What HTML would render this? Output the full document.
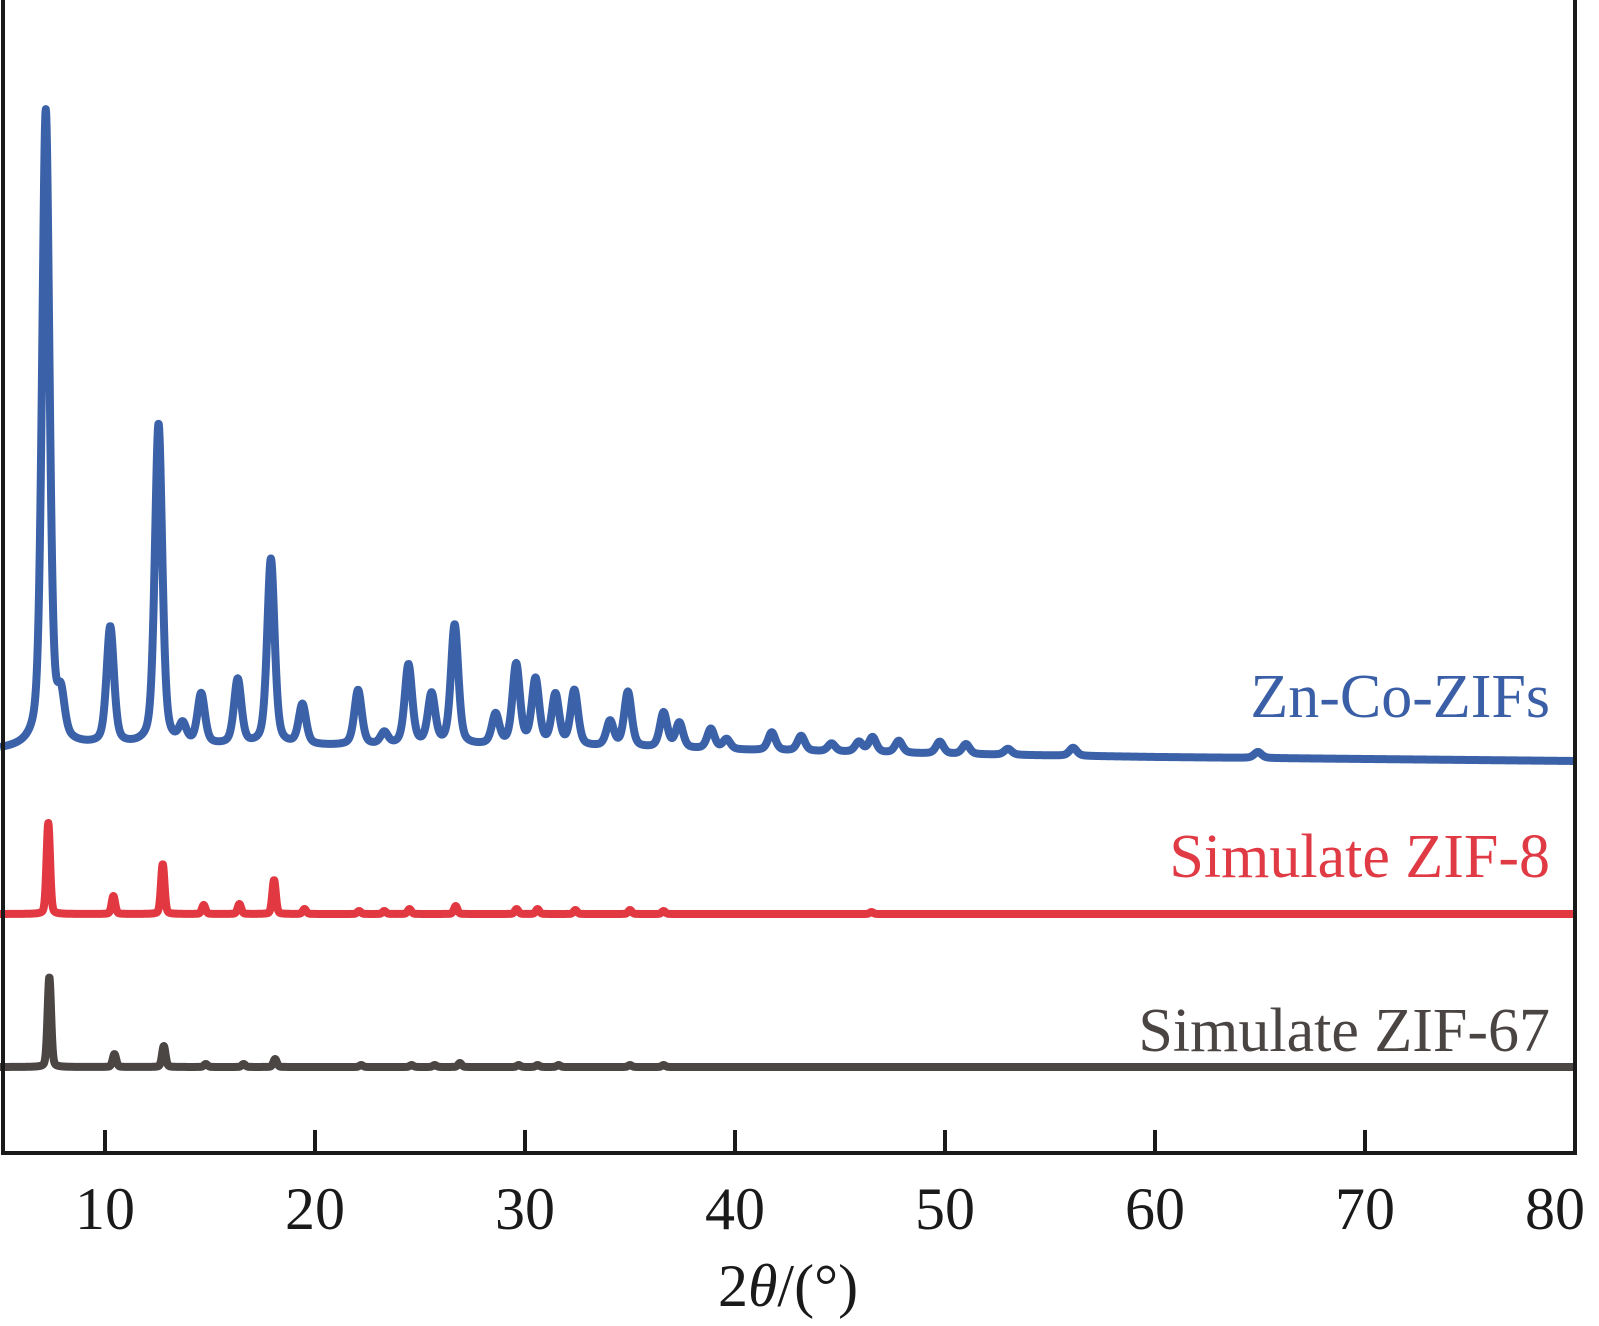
<!DOCTYPE html>
<html><head><meta charset="utf-8"><style>
html,body{margin:0;padding:0;background:#fff;}
svg{display:block;font-family:"Liberation Serif",serif;}
</style></head><body>
<svg id="chart" width="1599" height="1326" viewBox="0 0 1599 1326">
<g id="series"></g>
<rect x="3" y="-5" width="1572" height="1158" fill="none" stroke="#1a1a1a" stroke-width="4"/>
<g id="ticks"></g>
<text x="788" y="1306" font-size="60" text-anchor="middle" fill="#1a1a1a">2<tspan font-style="italic">θ</tspan>/(°)</text>
<text x="1550" y="717" font-size="62" text-anchor="end" fill="#3a5fa6">Zn-Co-ZIFs</text>
<text x="1550" y="877" font-size="62" text-anchor="end" fill="#e03a45">Simulate ZIF-8</text>
<text x="1550" y="1051" font-size="62" text-anchor="end" fill="#4a4443">Simulate ZIF-67</text>
</svg>
<script>
const xTicks = [10,20,30,40,50,60,70,80];
const blueBaseX = [5,8,15,30,40,50,60,70,80];
const blueBaseY = [0,4,4,4,0,-4,-7,-9,-11];
const bluePos = [7.18,7.9,10.25,12.55,13.7,14.58,16.32,17.9,19.4,22.05,23.3,24.45,25.55,26.65,28.6,29.58,30.5,31.45,32.35,34.05,34.9,36.6,37.35,38.85,39.6,41.75,43.15,44.6,45.9,46.55,47.8,49.75,51.0,53.0,56.1,64.9];
const blueInt = [636,40,117,321,18,50,65,186,40,55,12,80,50,120,30,80,65,50,55,25,55,35,25,20,10,18,15,8,10,15,12,12,10,6,8,6];
const redPos = [7.3,10.4,12.75,14.7,16.4,18.05,19.5,22.1,23.3,24.5,26.7,29.6,30.6,32.4,35.0,36.6,46.5];
const redInt = [91,18,50,9,10,34,5,3,3,5,8,5,5,4,4,3,2];
const blackPos = [7.35,10.45,12.8,14.8,16.6,18.1,22.2,24.6,25.7,26.9,29.7,30.6,31.6,35.0,36.6];
const blackInt = [90,13,21,3,3,8,2,2,2,4,2,2,2,2,2];

const X0=5, PX0=0, PXU=21;
function xs(v){return PX0+(v-X0)*PXU;}
function ys(base,v){return base-v;}
function interp(xa,ya,x){for(let i=0;i<xa.length-1;i++){if(x<=xa[i+1]){const t=(x-xa[i])/(xa[i+1]-xa[i]);return ya[i]+t*(ya[i+1]-ya[i]);}}return ya[ya.length-1];}
function profile(pos,ints,x,fw,eta){let s=0;for(let i=0;i<pos.length;i++){const d=(x-pos[i])/(fw/2);s+=ints[i]*((1-eta)*Math.exp(-0.693*d*d)+eta/(1+d*d));}return s;}
const NS='http://www.w3.org/2000/svg';
const g=document.getElementById('series');
function drawSeries(pos,ints,base,fw,eta,color,name,bx,by){
  let d='';
  for(let x=X0;x<=80.001;x+=0.02){
    const b=bx?interp(bx,by,x):0;
    const y=ys(base,profile(pos,ints,x,fw,eta)+b);
    d+=(d?'L':'M')+xs(x).toFixed(2)+','+y.toFixed(2);
  }
  const p=document.createElementNS(NS,'path');
  p.setAttribute('d',d);p.setAttribute('fill','none');p.setAttribute('stroke',color);
  p.setAttribute('stroke-width','8');p.setAttribute('stroke-linejoin','round');
  
  
  g.appendChild(p);
}
drawSeries(bluePos,blueInt,750,0.42,0.45,'#3b62a8','zn-co-zifs-line',blueBaseX,blueBaseY);
drawSeries(redPos,redInt,914,0.2,0.25,'#e23841','simulate-zif-8-line');
drawSeries(blackPos,blackInt,1067,0.2,0.25,'#4b4544','simulate-zif-67-line');
const tg=document.getElementById('ticks');
xTicks.forEach(t=>{
  if(t<80){
    const l=document.createElementNS(NS,'line');
    l.setAttribute('x1',xs(t));l.setAttribute('x2',xs(t));l.setAttribute('y1',1153);l.setAttribute('y2',1130);
    l.setAttribute('stroke','#1a1a1a');l.setAttribute('stroke-width','4');
    
    
    tg.appendChild(l);
  }
  const tx=document.createElementNS(NS,'text');
  tx.setAttribute('x',t==80?xs(t)-20:xs(t));tx.setAttribute('y',1229);
  tx.setAttribute('font-size','60');tx.setAttribute('text-anchor','middle');tx.setAttribute('fill','#1a1a1a');
  tx.textContent=t;
  
  
  tg.appendChild(tx);
});
</script>
</body></html>
